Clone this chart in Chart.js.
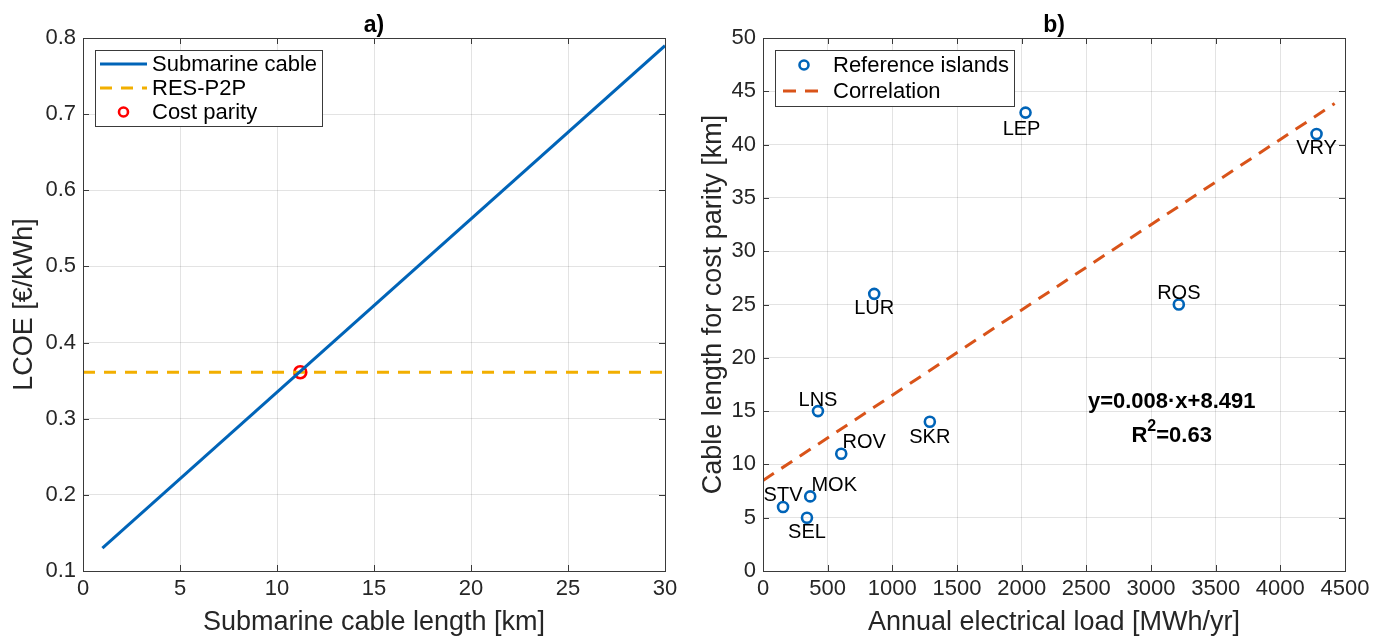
<!DOCTYPE html>
<html>
<head>
<meta charset="utf-8">
<script src="https://cdn.jsdelivr.net/npm/chart.js@4.4.1/dist/chart.umd.min.js"></script>
<style>
  html, body { margin: 0; padding: 0; background: #fff; }
  #wrap { width: 1384px; height: 639px; display: flex; }
  .box { width: 692px; height: 639px; position: relative; }
</style>
</head>
<body>
<div id="wrap">
  <div class="box"><canvas id="chartA"></canvas></div>
  <div class="box"><canvas id="chartB"></canvas></div>
</div>
<script>
// ---- data, panel a) ----
const cableLength = [1, 30];          // km
const lcoeCable = [0.13, 0.79];       // €/kWh
const p2pLength = [0, 30];
const lcoeP2P = [0.361, 0.361];
const parityLength = [11.2];
const parityLcoe = [0.361];

// ---- data, panel b) ----
const islands = ['LEP', 'VRY', 'LUR', 'ROS', 'LNS', 'SKR', 'ROV', 'MOK', 'STV', 'SEL'];
const annualLoad = [2030, 4280, 860, 3215, 425, 1290, 605, 365, 155, 340]; // MWh/yr
const parityCable = [43, 41, 26, 25, 15, 14, 11, 7, 6, 5];                 // km
const corrLoad = [0, 4420];
const corrCable = [8.491, 43.85];

const xTicksA = [0, 5, 10, 15, 20, 25, 30];
const yTicksA = [0.1, 0.2, 0.3, 0.4, 0.5, 0.6, 0.7, 0.8];
const xTicksB = [0, 500, 1000, 1500, 2000, 2500, 3000, 3500, 4000, 4500];
const yTicksB = [0, 5, 10, 15, 20, 25, 30, 35, 40, 45, 50];

const BLUE = '#0064B8';
const YELLOW = '#F2AF00';
const ORANGE = '#D95319';
const RED = '#FF0000';
const AXIS = '#3a3a3a';
const FONT = '"Liberation Sans", Arial, sans-serif';

const pts = (xs, ys) => xs.map((x, i) => ({ x: x, y: ys[i] }));

// draws the MATLAB-like box, inward ticks, title, legend and text labels
const matlabFrame = {
  id: 'matlabFrame',
  afterDatasetsDraw(chart, args, opts) {
    const ctx = chart.ctx;
    const a = chart.chartArea;
    const xs = chart.scales.x, ys = chart.scales.y;
    ctx.save();
    // inward ticks on all sides
    ctx.strokeStyle = AXIS;
    ctx.lineWidth = 1;
    ctx.beginPath();
    opts.xTicks.forEach(v => {
      const px = Math.round(xs.getPixelForValue(v)) + 0.5;
      ctx.moveTo(px, a.bottom); ctx.lineTo(px, a.bottom - 6);
      ctx.moveTo(px, a.top); ctx.lineTo(px, a.top + 6);
    });
    opts.yTicks.forEach(v => {
      const py = Math.round(ys.getPixelForValue(v)) + 0.5;
      ctx.moveTo(a.left, py); ctx.lineTo(a.left + 6, py);
      ctx.moveTo(a.right, py); ctx.lineTo(a.right - 6, py);
    });
    ctx.stroke();
    ctx.strokeRect(Math.round(a.left) + 0.5, Math.round(a.top) + 0.5,
      Math.round(a.right - a.left), Math.round(a.bottom - a.top));

    // title
    ctx.fillStyle = '#000';
    ctx.font = 'bold 23px ' + FONT;
    ctx.textAlign = 'center';
    ctx.textBaseline = 'alphabetic';
    ctx.fillText(opts.title, (a.left + a.right) / 2, a.top - 6);

    // point labels
    ctx.font = '20px ' + FONT;
    ctx.textBaseline = 'middle';
    (opts.labels || []).forEach(l => {
      const px = xs.getPixelForValue(l.x) + l.dx;
      const py = ys.getPixelForValue(l.y) + l.dy;
      ctx.fillText(l.text, px, py);
    });

    // equation text
    if (opts.equation) {
      const e = opts.equation;
      const px = xs.getPixelForValue(e.x);
      ctx.font = 'bold 22px ' + FONT;
      ctx.fillText(e.line1, px, ys.getPixelForValue(e.y1));
      const py2 = ys.getPixelForValue(e.y2);
      const w1 = ctx.measureText('R').width;
      const w3 = ctx.measureText('=0.63').width;
      ctx.font = 'bold 16px ' + FONT;
      const w2 = ctx.measureText('2').width;
      const start = px - (w1 + w2 + w3) / 2;
      ctx.textAlign = 'left';
      ctx.font = 'bold 22px ' + FONT;
      ctx.fillText('R', start, py2);
      ctx.fillText('=0.63', start + w1 + w2, py2);
      ctx.font = 'bold 16px ' + FONT;
      ctx.fillText('2', start + w1, py2 - 9);
    }

    // legend box
    const lg = opts.legend;
    ctx.font = '22px ' + FONT;
    const tw = Math.max(...lg.items.map(it => ctx.measureText(it.text).width));
    const x0 = a.left + 12, y0 = a.top + 12;
    const w = lg.textX + tw + 5;
    const h = lg.rowH * lg.items.length + 4;
    ctx.fillStyle = '#fff';
    ctx.fillRect(x0, y0, w, h);
    ctx.strokeStyle = AXIS;
    ctx.strokeRect(Math.round(x0) + 0.5, Math.round(y0) + 0.5, Math.round(w), Math.round(h));
    lg.items.forEach((it, i) => {
      const cy = y0 + 2 + lg.rowH * (i + 0.5);
      if (it.type === 'line') {
        ctx.strokeStyle = it.color;
        ctx.lineWidth = 3;
        ctx.setLineDash(it.dash || []);
        ctx.beginPath();
        ctx.moveTo(x0 + lg.lineFrom, cy); ctx.lineTo(x0 + lg.lineTo, cy);
        ctx.stroke();
        ctx.setLineDash([]);
      } else {
        ctx.strokeStyle = it.color;
        ctx.lineWidth = 2.6;
        ctx.beginPath();
        ctx.arc(x0 + (lg.lineFrom + lg.lineTo) / 2, cy, 4.5, 0, Math.PI * 2);
        ctx.stroke();
      }
      ctx.fillStyle = '#000';
      ctx.textAlign = 'left';
      ctx.textBaseline = 'middle';
      ctx.fillText(it.text, x0 + lg.textX, cy + 1);
    });
    ctx.restore();
  }
};

function axis(min, max, step, title, fixedSize, isY, fmt, titleGap) {
  return {
    type: 'linear',
    min: min, max: max,
    afterFit(scale) { if (isY) scale.width = fixedSize; else scale.height = fixedSize; },
    ticks: {
      stepSize: step,
      color: '#262626',
      font: { family: FONT, size: 22 },
      padding: isY ? 7 : 5,
      maxRotation: 0,
      autoSkip: false,
      callback: fmt
    },
    grid: { color: 'rgba(0,0,0,0.11)', drawTicks: false },
    border: { display: false },
    title: {
      display: true,
      text: title,
      color: '#262626',
      font: { family: FONT, size: 27 },
      padding: isY ? { top: titleGap, bottom: 4 } : { top: 2, bottom: 0 }
    }
  };
}

const configA = {
  type: 'scatter',
  data: {
    datasets: [
      {
        label: 'Submarine cable',
        data: pts(cableLength, lcoeCable),
        showLine: true, borderColor: BLUE, borderWidth: 3, pointRadius: 0
      },
      {
        label: 'RES-P2P',
        data: pts(p2pLength, lcoeP2P),
        showLine: true, borderColor: YELLOW, borderWidth: 3, borderDash: [12, 9], pointRadius: 0
      },
      {
        label: 'Cost parity',
        data: pts(parityLength, parityLcoe),
        pointRadius: 6, pointBorderWidth: 2.6, pointBorderColor: RED, pointBackgroundColor: '#fff'
      }
    ]
  },
  options: {
    responsive: false,
    animation: false,
    layout: { padding: { top: 38, right: 27, left: 0, bottom: 0 } },
    plugins: {
      legend: { display: false },
      tooltip: { enabled: false },
      matlabFrame: {
        title: 'a)',
        xTicks: xTicksA, yTicks: yTicksA,
        legend: {
          rowH: 24, lineFrom: 5, lineTo: 52, textX: 57,
          items: [
            { type: 'line', color: BLUE, text: 'Submarine cable' },
            { type: 'line', color: YELLOW, dash: [12, 9], text: 'RES-P2P' },
            { type: 'marker', color: RED, text: 'Cost parity' }
          ]
        }
      }
    },
    scales: {
      x: axis(0, 30, 5, 'Submarine cable length [km]', 68, false, v => String(v)),
      y: axis(0.1, 0.8, 0.1, 'LCOE [€/kWh]', 83, true, v => v.toFixed(1), 8)
    }
  },
  plugins: [matlabFrame]
};

// label offsets in pixels relative to each island marker
const labelShift = {
  LEP: [-4, 17], VRY: [0, 15], LUR: [0, 15], ROS: [0, -11], LNS: [0, -11],
  SKR: [0, 16], ROV: [23, -11], MOK: [24, -11], STV: [0, -12], SEL: [0, 15]
};

const configB = {
  type: 'scatter',
  data: {
    datasets: [
      {
        label: 'Reference islands',
        data: pts(annualLoad, parityCable),
        pointRadius: 5, pointBorderWidth: 2.6, pointBorderColor: BLUE, pointBackgroundColor: 'rgba(255,255,255,0)'
      },
      {
        label: 'Correlation',
        data: pts(corrLoad, corrCable),
        showLine: true, borderColor: ORANGE, borderWidth: 3, borderDash: [13, 9], pointRadius: 0
      }
    ]
  },
  options: {
    responsive: false,
    animation: false,
    layout: { padding: { top: 38, right: 39, left: 0, bottom: 0 } },
    plugins: {
      legend: { display: false },
      tooltip: { enabled: false },
      matlabFrame: {
        title: 'b)',
        xTicks: xTicksB, yTicks: yTicksB,
        labels: islands.map((n, i) => ({
          text: n, x: annualLoad[i], y: parityCable[i], dx: labelShift[n][0], dy: labelShift[n][1]
        })),
        equation: { line1: 'y=0.008·x+8.491', x: 3160, y1: 15.9, y2: 12.7 },
        legend: {
          rowH: 26, lineFrom: 8, lineTo: 50, textX: 58,
          items: [
            { type: 'marker', color: BLUE, text: 'Reference islands' },
            { type: 'line', color: ORANGE, dash: [13, 9], text: 'Correlation' }
          ]
        }
      }
    },
    scales: {
      x: axis(0, 4500, 500, 'Annual electrical load [MWh/yr]', 68, false, v => String(v)),
      y: axis(0, 50, 5, 'Cable length for cost parity [km]', 71, true, v => String(v), 5)
    }
  },
  plugins: [matlabFrame]
};

function make(id, cfg) {
  const c = document.getElementById(id);
  c.width = 692; c.height = 639;
  return new Chart(c, cfg);
}
const chartA = make('chartA', configA);
const chartB = make('chartB', configB);
</script>
</body>
</html>
